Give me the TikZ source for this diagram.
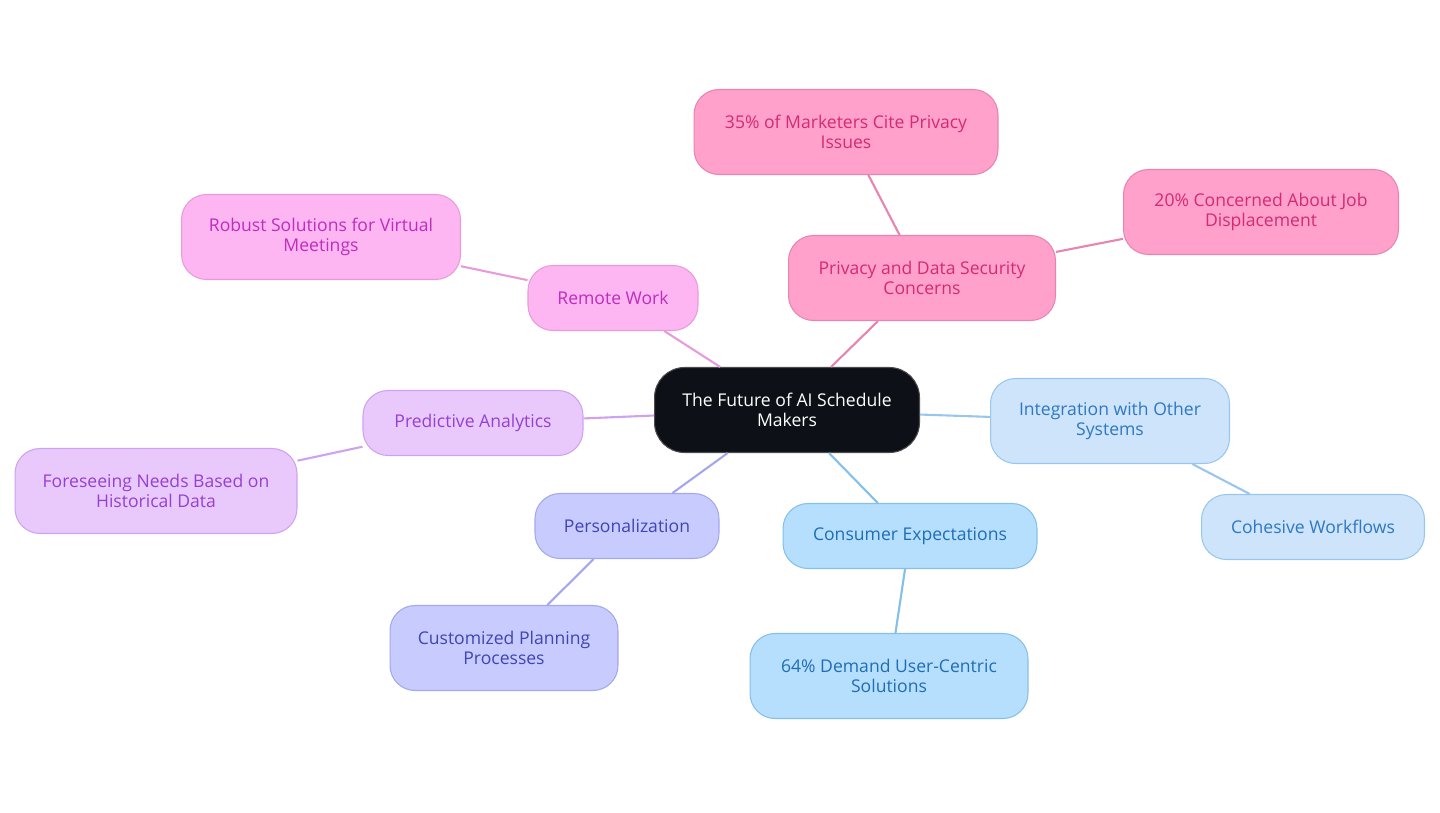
\documentclass[tikz,border=0pt]{standalone}
\usepackage{fontspec}
\setmainfont{Open Sans}
\usetikzlibrary{positioning,calc}

\definecolor{rootfill}{HTML}{0D1117}
\definecolor{pinkfill}{HTML}{FFA1CB}
\definecolor{pinkline}{HTML}{E784B2}
\definecolor{pinktext}{HTML}{D42A72}
\definecolor{magfill}{HTML}{FDB6F2}
\definecolor{magline}{HTML}{E79BDC}
\definecolor{magtext}{HTML}{BE2DBB}
\definecolor{violfill}{HTML}{E9C9FC}
\definecolor{violline}{HTML}{CFA2EE}
\definecolor{violtext}{HTML}{9540D2}
\definecolor{indfill}{HTML}{C8CBFE}
\definecolor{indline}{HTML}{A3A8EE}
\definecolor{indtext}{HTML}{4044B4}
\definecolor{skyfill}{HTML}{B6DFFD}
\definecolor{skyline}{HTML}{86BFEA}
\definecolor{skytext}{HTML}{1F6DB6}
\definecolor{bluefill}{HTML}{CDE4FB}
\definecolor{blueline}{HTML}{9AC6EE}
\definecolor{bluetext}{HTML}{2E78C2}

\begin{document}
\begin{tikzpicture}[
    x=0.02cm, y=-0.02cm,
    idea/.style={draw, rectangle, rounded corners=0.5cm, align=center, font=\fontsize{10}{11}\selectfont, line width=0.6pt},
    one/.style={minimum height=1.3cm},
    two/.style={minimum height=1.7cm},
    edge/.style={line width=1.2pt},
]

\useasboundingbox (0,0) rectangle (1440,812);

% Root
\node[idea, two, rounded corners=0.6cm, fill=rootfill, draw=black!70, text=white, minimum width=5.3cm] (root) at (787,410) {The Future of AI Schedule\\Makers};

% Privacy branch
\node[idea, two, fill=pinkfill, draw=pinkline, text=pinktext, minimum width=5.34cm] (privacy) at (922,278) {Privacy and Data Security\\Concerns};
\node[idea, two, fill=pinkfill, draw=pinkline, text=pinktext, minimum width=6.08cm] (cite) at (846,132) {35\% of Marketers Cite Privacy\\Issues};
\node[idea, two, fill=pinkfill, draw=pinkline, text=pinktext, minimum width=5.5cm] (jobs) at (1261,212) {20\% Concerned About Job\\Displacement};

% Remote work branch
\node[idea, one, fill=magfill, draw=magline, text=magtext, minimum width=3.4cm] (remote) at (613,298) {Remote Work};
\node[idea, two, fill=magfill, draw=magline, text=magtext, minimum width=5.58cm] (virtual) at (321,237) {Robust Solutions for Virtual\\Meetings};

% Predictive branch
\node[idea, one, fill=violfill, draw=violline, text=violtext, minimum width=4.4cm] (predict) at (473,423) {Predictive Analytics};
\node[idea, two, fill=violfill, draw=violline, text=violtext, minimum width=5.64cm] (foresee) at (156,491) {Foreseeing Needs Based on\\Historical Data};

% Personalization branch
\node[idea, one, fill=indfill, draw=indline, text=indtext, minimum width=3.68cm] (person) at (627,526) {Personalization};
\node[idea, two, fill=indfill, draw=indline, text=indtext, minimum width=4.56cm] (planning) at (504,648) {Customized Planning\\Processes};

% Consumer branch
\node[idea, one, fill=skyfill, draw=skyline, text=skytext, minimum width=5.08cm] (consumer) at (910,536) {Consumer Expectations};
\node[idea, two, fill=skyfill, draw=skyline, text=skytext, minimum width=5.56cm] (demand) at (889,676) {64\% Demand User-Centric\\Solutions};

% Integration branch
\node[idea, two, fill=bluefill, draw=blueline, text=bluetext, minimum width=4.78cm] (integr) at (1110,421) {Integration with Other\\Systems};
\node[idea, one, fill=bluefill, draw=blueline, text=bluetext, minimum width=4.46cm] (workflow) at (1313,527) {Cohesive Workflows};

\draw[edge, pinkline] (root) -- (privacy);
\draw[edge, pinkline] (privacy) -- (cite);
\draw[edge, pinkline] (privacy) -- (jobs);
\draw[edge, magline] (root) -- (remote);
\draw[edge, magline] (remote) -- (virtual);
\draw[edge, violline] (root) -- (predict);
\draw[edge, violline] (predict) -- (foresee);
\draw[edge, indline] (root) -- (person);
\draw[edge, indline] (person) -- (planning);
\draw[edge, skyline] (root) -- (consumer);
\draw[edge, skyline] (consumer) -- (demand);
\draw[edge, blueline] (root) -- (integr);
\draw[edge, blueline] (integr) -- (workflow);

\end{tikzpicture}
\end{document}
